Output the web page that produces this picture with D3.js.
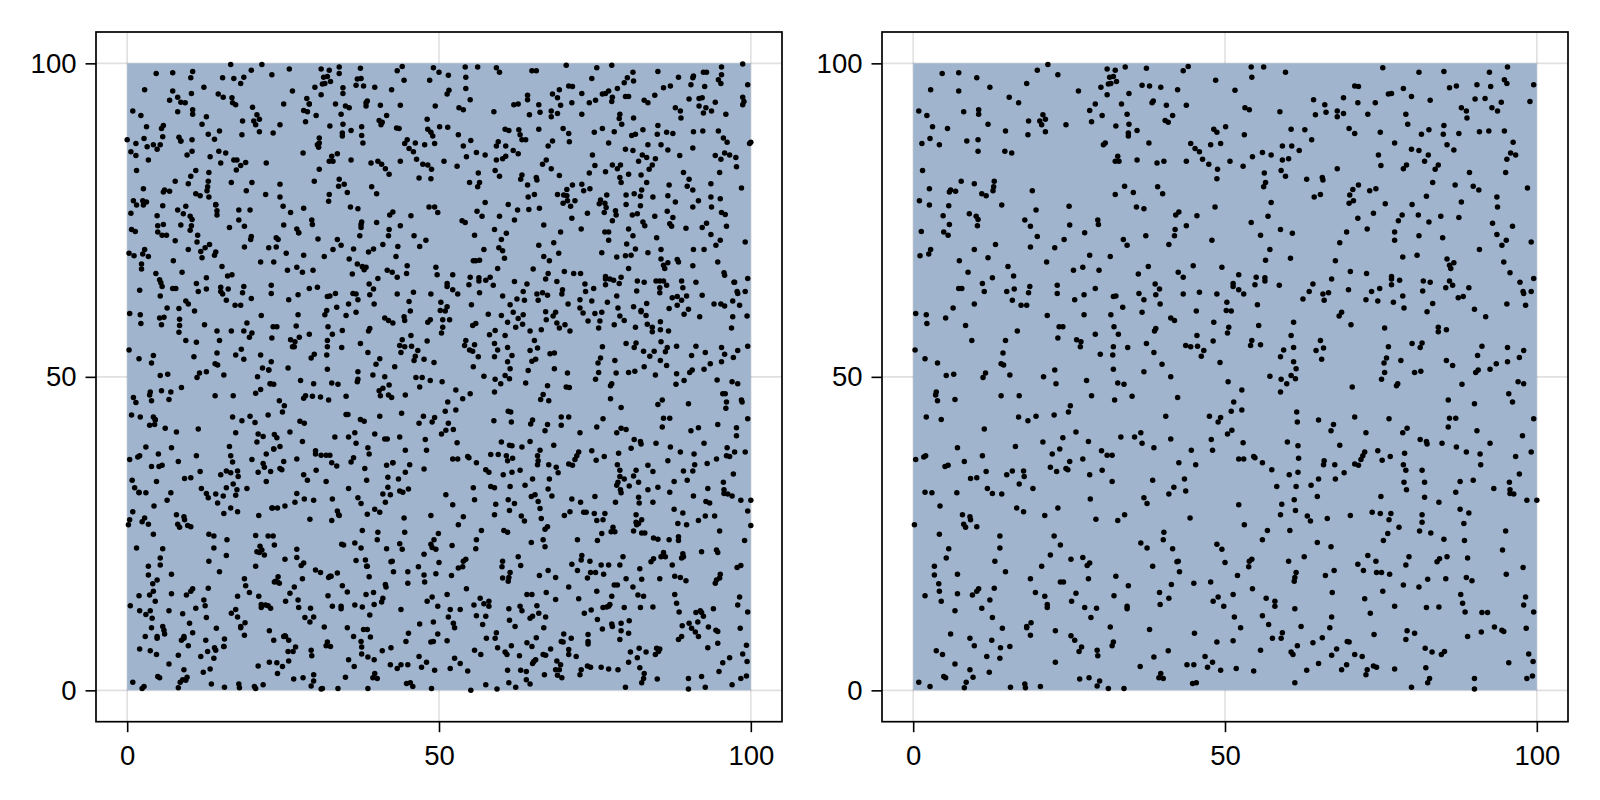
<!DOCTYPE html>
<html lang="en">
<head>
    <meta charset="UTF-8">
    <title>Scatter panels</title>
    <script src="https://d3js.org/d3.v7.min.js"></script>
    <style>
        html, body { margin: 0; background: #fff; }
        svg { display: block; }
        .axis text { font-family: "Liberation Sans", Arial, sans-serif; font-size: 27.5px; fill: #000; }
    </style>
</head>
<body>
    <div id="chart"></div>
    <script>
        // Points visible in both panels as [x, y]
        const sharedPoints = [
            [4.65,98.4],[7.3,98.5],[10.2,97.7],[2.8,95.8],[7.3,95.6],[12.3,96.2],[18.2,96.8],[19.9,98.9],[21.6,99.8],[23.2,98.2],[15.4,94.6],[16.9,93.7],[26.5,95.6],[0.9,92.4],[2.2,91.7],[8.1,92.3],[10.5,92.6],[10.5,91.9],[3.1,89.9],[5.5,89.6],[12,90.3],[14.8,89.2],[18.5,90.8],[20.8,91.8],[21.2,91.1],[20.3,90.8],[20.6,90.2],[21.2,89.1],[18.4,88.6],[24.5,90.2],
            [1.4,87.2],[2.7,88],[4.2,87],[8.6,87.6],[10.4,87.8],[10.4,86],[14.7,86],[15.8,85.7],[1.5,82.9],[7.7,81.2],[9.8,80.8],[13,81.2],[12.9,80.3],[12.8,79.7],[2.6,80],[6,79.8],[5.8,79.5],[6.8,79.6],[11,79.2],[11.7,78.9],[19.1,79.7],[1,78.1],[2.6,77.4],[5.7,77.3],[14.2,77.4],[19.7,76.6],[25,77.2],[4.8,75.7],[9,76],[10.1,75.6],[10.4,75.1],[10.3,74.1],[5.8,74.3],[17.9,75],[18.8,74],[25.1,74.2],
            [1.3,73.2],[4.9,73.1],[5.6,72.6],[19.9,72.4],[24.2,71.9],[13.2,71.1],[9.8,70.3],[18.8,70.7],[22.7,70.6],[2.8,70.3],[2.5,69.6],[1.1,69.3],[12,69],[7.4,68.5],[21.4,68.3],[15.2,67.6],[8.8,66.7],[16.1,66.1],[12.7,65.8],[11.1,64.9],[7.3,64.1],[7.8,64.1],[11.4,63.6],[15,63.6],[16.2,64],[18.7,64.4],[18.5,63.4],[15.9,62.2],[17.3,61.4],[18.2,61.4],[9.8,61.6],[6.4,61],[0.4,60.1],[2.1,59.9],[2.2,58.5],[5.2,59.4],[8.4,58.2],[16.7,57.3],[9.4,55.8],[14.8,55.8],[14.4,53.8],[0.3,54.3],[1.9,52.9],[3.9,52.2],[14.1,52.1],[14.5,51.9],[5.3,50.2],[6.5,50.4],[11.6,50.6],[11.2,49.9],[15.5,50.3],[20.9,50],[22.7,51.1],
            [30.1,96.2],[31.1,99.1],[32.4,98.9],[34,99.4],[37.4,99.2],[31.5,97.8],[32.1,97.9],[31.3,96.7],[31.7,96.8],[32.6,97.1],[36.7,96.5],[37.9,96.4],[39.7,96.2],[42.4,95.8],[44.1,99.5],[43.3,98.8],[48.5,97.3],[51.6,95.7],[31.1,95],[34.6,95.2],[29.2,93.5],[28.3,92.5],[33.4,93.5],[38.5,94],[38.3,93.7],[40.6,93.3],[43.8,93.3],[30.3,91.7],[34.3,91.9],[28.6,90.7],[41.6,91.7],[40.4,90.9],[40.9,90.6],[34.6,90.3],[32.5,90],[35.9,89.3],[34.5,88.9],[34.5,88.4],[48.2,89.5],[48.7,89],[50.1,89.9],
            [30.8,87.3],[30.5,87],[37.8,87.3],[44.5,87.2],[45.2,86.4],[45.9,85.9],[47.7,87],[49.3,87.2],[32.8,85.2],[32.4,84.4],[33,84.4],[35.9,84.6],[39.1,84.1],[40.2,84.4],[43.8,84.4],[46.4,84.7],[47.4,83.9],[48.8,83.1],[50.8,84.4],[48.7,81.6],[33.9,80.4],[32.4,79.1],[35.3,79.4],[39.2,80.3],[40,79.2],[35.8,77.1],[37,76.8],[48.4,77.1],[42.6,76.3],[42.1,75.8],[45.5,75.7],[29.6,75],[29.7,74.3],[43.8,74.1],[42,73.5],[27.5,73],[41.9,72.5],[37.3,72.5],[33.7,71.9],[34.3,71],[41,71.1],[47.9,71.8],[28.3,69.4],[31.6,69.2],
            [37.7,67.6],[44.9,67.7],[49.5,67.5],[27.2,67.5],[25.7,67],[29.8,67],[36.1,66.4],[42.5,66.7],[43.3,65.9],[38.8,64.8],[39.5,64],[36.2,63.3],[37,62.3],[38.9,63.1],[39.6,61.6],[29.2,64.1],[23.1,64.6],[23.1,63.3],[27.4,63.1],[25.9,62.3],[32.1,62.8],[32.5,62.9],[33.6,61.1],[43.3,63.2],[45.9,63.5],[48.7,63.2],[51.3,64.9],[51.3,64.4],[50.3,61.9],[50.2,60.6],[51,60.5],[21.5,59.8],[27.4,59.9],[31.7,59.9],[36.7,60.3],[45.4,60.5],[41.3,59.4],[41.9,59],[48.2,58.7],[32.2,58],[23.4,58],[24,58],[38.9,57.7],[38.7,57.3],[50.6,57.9],[50.4,57],[29.2,56.8],[32.9,56.8],[45.5,56.6],[23.2,56.2],[26.2,55.9],[26.9,55.6],[26.8,54.8],[37.4,55.3],[32.1,54.8],[34.4,54.7],[48.1,55.7],[43.7,55],[44.5,54.8],[45.6,54.9],[46.6,54.2],[46.2,53.3],[38.6,53.9],[30,53.6],[32,53.5],[49.2,52.3],[39.9,52],[32.1,51.2],[37,50.8],[41.3,50],
            [54.2,99.4],[56.2,99.4],[54.3,97.8],[59.7,98.6],[75.3,99.3],[81.1,98.6],[85.1,98.7],[92.4,98.6],[95.3,99.4],[94.8,97.4],[95.2,96.8],[99.5,96.6],[70.8,96.4],[71.4,96.3],[76.2,95.1],[76.7,95.2],[78.6,96],[79.9,94.7],[82.9,94.1],[86,96.1],[87.1,96.4],[90.4,96.6],[92.6,96.3],[90.1,94.3],[91.7,94.4],[94.3,93.8],[92.8,92.9],[93.7,92.4],[98.9,93.9],[87.9,92.9],[88.7,92.4],[88.8,91.3],[64.2,94.2],[69,94.5],[66,93.4],[66.2,92.2],[64.5,91.8],[68,92.4],[68,91.5],[69,92],[71.3,93.7],[74.1,93.7],[72.9,91.9],[79,91.9],[79.3,90.3],[53.2,92.9],[53.9,92.6],[58.8,92.3],
            [53.1,88.6],[60.6,89.5],[62.8,89.4],[69.9,89.6],[70.8,88.8],[74.9,89],[81.5,88.7],[82.7,89.4],[85.1,90.1],[85,88.7],[87.5,88.8],[90.8,89.1],[92.3,89.2],[94.8,89.2],[63.9,87.8],[59.2,86.8],[60.7,86.8],[61.9,86.1],[77.2,87.3],[85.6,87],[86.7,86.2],[96.2,87.4],[56,85.8],[57.4,85.4],[54.4,85.1],[59.2,84.6],[60.2,84.8],[52.9,83.6],[79.9,86.3],[81.1,86.1],[82.6,85.4],[74.6,85.4],[75,83.7],[82,84.4],[79.1,83.8],[78.6,83.2],[84.2,83.8],[83.7,83.1],[95.8,85.7],[96.6,85.4],[95.2,84.7],[68,83.2],[59,82.9],[59.7,82],[56.3,82.5],[56.5,81],[56.2,80.3],[89.2,82.6],[95,82.6],[63.1,81.5],[65.6,81.8],[65.7,81.4],[83.3,81],[71.4,80.6],[70.5,79.9],[70,79],[74.2,80],[73.2,79.7],[86.9,80.6],[89.8,80.4],[90.7,79.8],[98.5,80.1],[64.3,78.7],[65.3,79.1],[70.6,78.1],[69.9,77.7],[82.3,78.8],[80,77.5],[57.4,77.8],[75.7,77.6],[87.9,77.9],[93.6,78.7],[93.7,77.1],
            [56.9,75.6],[73.8,76.1],[71.3,75.3],[78.4,75.8],[77.8,74.9],[81,75.8],[82.7,74.7],[84.6,75.6],[87.5,75.4],[54.2,74.6],[92.9,74.5],[96.1,74],[58.9,73.5],[60.8,72.9],[69.5,73.1],[72.8,73.6],[77.2,73.1],[77.2,71.8],[81.1,72.5],[84.9,72.2],[55.7,72.6],[93.6,72.7],[95.1,71.8],[94.4,71],[99.1,71.5],[68.4,71.4],[57.2,70.3],[56.5,68.6],[60.5,68.9],[90.8,70.3],[67.7,68.5],[78.5,69.1],[80.8,69.4],[85.6,68.8],[86.7,68.2],[86,67.8],[86.2,67.3],[94.7,68.3],[95.7,66.6],[70.1,66.8],[72.7,66.5],[52.2,66.3],[55,65.9],[56.4,65.8],[56.4,65.3],[54.8,64.7],[58.7,64.6],[67.1,65.6],[64.1,64.8],[63.5,63.6],[62.5,62.4],[76.7,66],[76.7,65.6],[76.7,64.7],[78,65.4],[81.8,65.3],[82.9,65.1],[81.7,63.7],[86,65.3],[86.5,64.6],[85.4,64.2],[89.1,64.2],[97.3,65.1],[99.5,65.7],[99.1,63.6],[97.8,63.6],[97.9,63.3],[52.2,63.9],[53,63.2],[69.8,63.9],[74.8,64.1],[73.5,63.6],[65.7,63.2],[66.6,63.4],[65.9,62.2],[72.6,62.3],[74.5,62.1],[77,61.9],[78.5,62.9],[78.7,61],[87.4,62.6],[88.2,62.8],[83.3,61.7],[82.4,60.4],[90,60.8],[91.8,59.6],[95.2,61.6],[98.2,61.4],[55.2,61.5],
            [68.3,59.7],[68.7,60.3],[70.2,58.3],[61,58.7],[55.4,58.2],[75.6,57.8],[84.2,57.9],[84.2,57.2],[85.5,57.5],[60.6,56.6],[54.3,55.8],[54.1,55],[55.7,55.1],[61,54.7],[59.4,54.3],[58.9,53.2],[65.3,55.8],[65.8,54.6],[64.6,54.2],[65.5,52.8],[61,52.4],[61.4,51.3],[60.6,50.2],[61.3,49.7],[57.2,50.1],[59,49.6],[76.2,54.8],[75.9,53],[75.5,52.2],[75.6,50.7],[75.1,49.6],[80,55.3],[81.6,55.4],[81.3,54.7],[78.2,52.6],[80.4,50.7],[81.4,50.9],[85.5,52.6],[86.5,51.8],[91.2,54.9],[90.5,53.4],[90.6,51.1],[90.2,50.7],[95.3,54.7],[95.3,52.4],[93.5,52.1],[92.5,51.2],[97.9,54.2],[97.2,53.1],
            [22.9,48.9],[27.8,49.4],[32.8,49],[33.8,48.8],[3.7,47.6],[3.6,47.1],[3.9,46.2],[6.7,46.4],[14.1,47],[17,47],[28.6,47],[32.3,46.3],[35.1,46.9],[42.4,46.7],[50.5,49.2],[51.4,46],[25.2,45.4],[24.9,44.4],[2.1,43.6],[4.5,43.2],[16.9,43.6],[18.4,43],[19.7,43.7],[22.6,43.9],[40.5,43.7],[47.5,43.7],[49.3,43.5],[48.9,42.8],[51,44.5],[11.4,41.7],[26.1,41.2],[51.1,41.5],[50.4,40.9],[7.1,38.7],[16.4,38.9],[20.8,39.6],[24,40.3],[28.1,39.7],[33.3,40.4],[35.5,40.4],[36.5,41.1],[36.7,39.4],[38.6,38.7],[41.3,40.1],[47.8,40],[48,38.3],[23.5,38.5],[22.3,37.7],[30.2,38.2],[31.1,37.5],[31.9,37.5],[44.6,38.3],
            [0.4,36.8],[1.7,37.2],[2,37.4],[11.1,37.4],[8.2,36.5],[5.6,35.9],[5.1,35.7],[27.2,36.9],[25.1,36.5],[22,35.6],[23,34.9],[24.5,35.4],[24.8,35.2],[42.6,36.3],[45.3,36],[52.2,36.9],[11.7,34.9],[15.9,35],[17.7,35],[17.8,34.1],[15,34.4],[28.3,34.4],[30.3,35.1],[31.9,33.3],[9.2,33.8],[10.2,33.9],[17,32.9],[19.2,32.2],[38.4,33.5],[43.5,33.7],[41.8,32.4],[41,31.3],[43.7,31.8],[1.9,31.6],[3,31.5],[7,31.5],[11.9,32.2],[12.7,31.4],[14.2,31.3],[37,30.7],[37.5,29.8],[28.4,30.5],[4.3,29.4],[16.6,29.1],[17.7,28.5],[23.2,29.1],[52.2,29.6],[7.9,28],[9.1,27.7],[9.2,27.2],[21.1,27.9],[29.3,27.3],[32.8,27.1],[33.9,28],[44.4,27.5],[0.2,26.4],[8.1,26.5],[8.4,26],[10.2,26.1],
            [4.2,24.9],[13.9,24.6],[22.6,24.6],[40.2,25.2],[40.1,24],[23.6,23.2],[36.5,23.5],[37.5,22.7],[5.7,22.6],[13.9,22.7],[41.6,22.6],[48.7,23.3],[49.5,22.5],[5.3,21.1],[13.1,20.6],[22,21.6],[25.3,20.9],[27.2,21.2],[28.3,20.3],[27.9,19.9],[20.6,19.8],[3.4,19.8],[3.4,18.4],[14.8,18.9],[7.1,18.5],[38.4,19.8],[42.3,20.5],[42.5,20.6],[42.7,18.9],[50,20.4],[52,18.3],[32.5,18.2],[28.1,17.8],[18.8,17.8],[4.1,17],[4.2,15.8],[23.6,17.3],[24.1,17.3],[13,16.3],[34.5,16.7],[41.4,16.9],[45,17.1],[47.7,17.3],[10.5,16.2],[10.2,15.8],[9.5,15.2],[7.1,15.4],[1.9,15.1],[19.6,15.6],[21.1,15],[26.1,15.5],[32.2,15.1],[39.5,15.6],[51.3,15.3],[48.9,14.9],[48.1,14.2],[12.3,14.4],[4.5,14.2],[25.4,14.2],[41,14.7],[21.5,13.7],[21.5,13.2],[39.6,13.7],[34.3,13.4],[34.3,13],[11,13.1],[6.7,12.7],[27.5,13.2],[29.4,13.1],[49.8,13.4],
            [12.7,11.6],[28.5,11.6],[51.5,11.7],[18.9,10.8],[18.2,10.2],[18.2,10],[14.3,9.9],[31.6,10.1],[37.9,9.7],[22.8,9.5],[6,9],[18.8,8.8],[45.1,9.1],[9.1,8.3],[9.8,7.1],[12.6,8],[25.3,8.7],[25.9,8],[32.1,7.7],[31.9,7.1],[27,6.9],[48.7,7.7],[51.3,7.9],[15.5,7],[14,6.8],[3.7,6.3],[4.7,5.7],[26.6,6.2],[29.5,6.4],[29.6,5.5],[40.9,6.3],[11.8,5.4],[13.9,5.1],[38.6,5.3],[46.8,5.4],[48,4.5],[6.7,4.2],[22.8,4.5],[43.9,4.1],[45,4.1],[36.4,3.8],[47.2,3.7],[9.1,3.3],[12.2,2.9],[49.3,3.2],[51.8,3.5],[4.9,2.2],[5.2,2],[9.6,2.1],[26.7,1.8],[28.2,2],[29.9,1.5],[39.7,2.7],[39.4,2],[40.1,1.9],[0.9,1.3],[2.7,0.6],[8.5,1.3],[8.2,0.4],[15.6,0.5],[17.9,1],[18,0.4],[20.4,0.6],[29.5,0.7],[31.3,0.3],[33.8,0.3],[44.8,1.1],[45.4,1.2],
            [59.9,48.9],[58.9,47.6],[52.7,47.9],[70.4,48.4],[77.7,48.9],[77.5,48.6],[88,48.8],[97,49.2],[97.9,48.9],[95.5,47.3],[96.1,46],[85.8,46.3],[90,45.7],[52.7,44.7],[61.5,44.4],[61.6,42.8],[65,43.1],[67.4,42.4],[67,41.4],[70.8,43.6],[76.3,43.3],[72.6,41.1],[78.5,41.1],[79.2,41.8],[86,43.4],[87,43.4],[85.8,42],[99.5,43.3],[90.4,41.4],[97.7,40.6],[52.9,39.5],[60,39.6],[61.7,39],[68.4,39.1],[81.3,40],[82.3,39.7],[82.4,39.3],[84.8,39.4],[87.1,38.8],[88.7,38],[92.5,39.4],[74.5,38.2],[78.8,37.8],[90.9,37.7],[99.1,38],[53,36.9],[54.6,37.3],[54.8,37.1],[56,36.3],[57.5,35.2],[61.8,37],[65.9,36.6],[65.8,36],[67.6,36],[72.4,38],[72.1,37.4],[71.8,36.8],[70.8,36.1],[71.4,35.9],[75.2,36.7],[76.5,37.3],[78.6,36],[79,35.1],[91,36],[96.6,37.3],[60.3,34.4],[61.7,34.8],[69.1,34.7],[65,33.7],[67.7,33.7],[81.6,35.1],[97.2,34.5],[78.7,33.2],[79.1,32],[82,33.2],[87.7,33.3],[89.8,33.5],[95.6,33.2],[58.3,32.5],[61.4,32.5],[63.8,32.7],[87,31.6],[93.1,32.2],[95.7,32],[95.7,31.4],[96.3,31.3],[64.8,30.9],[75,30.9],[82,30.8],[61.1,30.4],[59.1,29.7],[84.3,30],[98.4,30.3],[100,30.3],
            [61.3,28.7],[58.9,28],[63.2,27.8],[63.7,27],[66.4,27.4],[70.1,27.9],[73.6,28.4],[74.9,28.2],[76.6,28.2],[87.7,28.9],[89.1,28.3],[81.6,28],[81.6,26.8],[76.3,27.2],[53.1,26.4],[88.3,26.6],[56.8,25.5],[56,24],[60.4,25.5],[77.9,26],[76.1,25],[75.4,23.9],[81.2,25.4],[83,25.1],[85.1,24.1],[95,25.4],[88.4,23.9],[64.8,23.6],[67,22.9],[94.5,22.4],[62.7,21.3],[60.2,20.6],[54.3,20.9],[53.9,20.6],[53.8,19.7],[72.9,21.5],[74.2,20.6],[79.5,21.3],[71.3,20.1],[72.2,19.1],[79,20],[84.4,21],[84,20.5],[85.6,21.3],[88.9,21.1],[97.8,19.6],[61.4,18.8],[61.2,18],[61.1,17.4],[67.5,19.1],[66.1,18.3],[74.3,18.8],[75.1,18.8],[76.4,18.5],[95.1,18.5],[88.7,18],[89.6,17.5],[82.5,17.7],[85.4,17.8],[78.6,16.8],[81.1,16.5],[54.4,16.2],[67.2,15.6],[75.3,15.8],[56.6,14.7],[58,14.2],[58,13.4],[72.4,14.6],[87.8,15.3],[88.1,13.9],[98.2,14.9],[97.9,13.6],[61.2,13],[77.2,13.4],[82.3,13.2],[84.3,13.3],[73.3,12.3],[88.5,12.5],[91.2,12.4],[92.1,12.4],[99.5,12.5],[56,11.9],[67.1,11.7],
            [57,10.5],[62.2,10.2],[66.8,10],[52.5,10],[93.2,10.1],[94.4,9.6],[94.7,9.4],[98.3,9.9],[79.2,9.5],[80.4,9.1],[79,8.1],[91.1,9.3],[88.9,8.6],[73.9,8.9],[59.2,9.2],[59,8.3],[57.6,8.3],[65.6,8.4],[64.1,7.6],[69.6,7.8],[69.9,7.7],[55.7,6.4],[61.6,7.1],[60.6,6.1],[60.9,5.7],[67.9,6.6],[67.1,5.6],[82.1,6.7],[83.2,6.1],[85.2,6.2],[84.7,5.7],[70.8,5.7],[72,5.4],[98.7,5.8],[65,4.3],[69.5,4.1],[73.8,3.9],[74.3,3.7],[82.2,3.6],[99.4,4.6],[95.5,4.4],[54.6,3.1],[63.1,3.2],[68.7,3.3],[72.8,3.3],[72.6,2.5],[77.2,3.4],[82.8,1.9],[82.5,1.2],[90,1.9],[98.4,1.9],[99.3,2.3],[61.2,1.2],[79.9,0.5],[90,0.2]
        ];

        // Points that only the left panel shows
        const leftOnlyPoints = [
            [10.5,98.7],[16.6,99.8],[26,99.1],[15.3,97.7],[17.1,97.6],[18.7,97.8],[10.3,95.2],[14.6,95.1],[16.8,94.5],[17.4,93.4],[8.1,94.6],[6.8,94.1],[8.6,93.8],[9.3,93.7],[25.1,93.5],[28.8,94.4],[29.2,93.5],[28.9,92.3],[34,98.4],[34.6,96.1],[36.9,97.5],[37.5,97.6],[44.4,97.3],[49.1,99.3],[50,98.6],[35,93.2],[35.6,92.9],[38.3,93.2],[40.7,90.2],[37.6,89.9],[37.6,88.5],[46.2,87.3],[44.9,87.8],[49,88.4],[43.2,89.7],[43.6,89.6],[48.1,91.1],[49.4,93.2],[5.8,90.1],[12.7,91.5],[13,88.7],[14,87.9],[23.4,88.9],[20.1,93],
            [0,87.8],[3.2,86.7],[4.8,86.3],[5.3,87],[5.7,88.3],[8.3,88.2],[8.6,87.6],[0.6,85.9],[1.4,85.3],[3.4,84.6],[9.6,85.4],[13.3,85.1],[15,84.1],[22.3,84.1],[17.1,84.6],[17.6,84.6],[19,84.2],[18.2,83.7],[17.5,83],[28.2,85.7],[33.7,85.6],[30.8,88.1],[30.7,86.6],[30.8,83.1],[40.8,83.9],[41.4,83.2],[42,82.3],[48.2,83.8],[46.8,81.7],[11,82.9],[10.2,82],[13.1,82.6],[13.1,78.7],[1.5,77.4],[2.5,78.1],[3.1,77.9],[0.6,76.1],[8.1,76.6],[9.4,77.2],[4.9,74.1],[8.6,74.2],[10.1,73.4],[0.7,73.5],[6.3,72.6],[7.7,71.7],[11.3,72.6],[11.2,71.5],[12.5,70.6],[11.8,70],[14.2,69.9],[14,69.4],[0.3,69.7],[3.4,69.2],[2.3,68],[2.3,67.2],[4.6,66.5],[5.2,65.5],[5.4,65],[5.6,64.4],[2,63.8],[5.3,62.9],[16.8,66.3],[12.7,64],[15,64.3],[15.3,63.2],[19.9,62.5],[9.4,62.1],[10.8,60.5],[8.3,60.9],[5.9,59.5],[5.5,58.3],[8.4,59.2],[8.3,57.1],[11.1,55.5],[12.4,58.3],[14.4,57.3],[19.2,58.6],[18.7,57.3],[20,57],[19.6,56.3],[4.2,53.4],[10.7,53.2],[17.4,53.5],[18.3,54.4],[18.7,52.8],[21.4,53.5],[23.1,52.4],[21.7,51.4],[22.7,51.1],[12.7,50.8],[25.8,51.4],
            [20,81],[16.7,81],[22.2,79.1],[24.5,80.7],[24.5,78.7],[26.2,76.2],[28.3,76.9],[14.2,77.5],[14.4,76.5],[14.4,75.8],[17.9,76.6],[16.4,73.8],[27.2,73.6],[27.5,73],[19.8,71.9],[23.9,72.2],[23.9,70.7],[25.5,69.7],[23.5,68.3],[28.1,66.7],[30.5,64.3],[30.6,72],[33,70.3],[36.3,70.4],[35.6,68.8],[38.7,69.9],[39.5,70.4],[43.1,69.2],[43.4,70.8],[46,72.5],[46.9,70.8],[37.5,74.3],[37.6,74.7],[37.5,73.8],[40,74.6],[34,81.5],[34.8,80.7],[32.3,78],[30,81.2],[49.3,77.1],[49.8,76.2],[44.8,66.5],[41.7,67],[40.2,65.7],[36.9,68],[37.8,67.5],[38.3,67.5],[38,67.1],[36.7,63.2],[35.5,61.6],[33.4,63.3],[35.1,59.8],[32,60.6],[27.1,58.1],[27.6,56.3],[26.5,54.8],[32.1,55.8],[34.5,57.4],[29.5,53],[40.5,52.9],[39.4,50.3],[42.9,51.6],[37,49.6],[44.1,55.9],[43.9,53.9],[46,52.6],[47.6,52.8],[46.3,49.9],[47.3,49.9],[45.2,62],[42.6,58.6],[44.4,59.6],[44.5,59],[48.6,59.1],[49.7,66.3],
            [59.2,99.3],[51.5,98.1],[64.9,98.8],[65.6,98.8],[70.4,99.7],[77.7,99.7],[74.5,97.6],[88.4,97.8],[90.8,98],[90.7,97.7],[92.9,98.6],[95.3,98.2],[98.7,99.9],[51.3,95.1],[54.3,96],[55,94.2],[62,93.4],[62.7,93.5],[64.2,94.9],[68.2,95.1],[69.3,95.8],[69.5,93.3],[72.9,95.2],[75.1,94.1],[77.2,95.6],[77.8,94.6],[77.7,93.9],[79.7,96.9],[80.2,97.7],[81.2,97.2],[80.4,94.7],[83.5,93.7],[84.6,94.9],[92.2,94.5],[91.7,93.2],[92.4,92.1],[98.7,94.6],[98.7,93.4],[96,91.9],[78.9,91.2],[81.2,91.3],[51.4,89.8],[53.9,86.8],[55.1,87.7],[61.2,89.3],[63,88.6],[63.3,87.8],[66,89.5],[70.9,87.5],[76.2,89.6],[78.1,89.1],[80.9,88.5],[86.5,89],[83.5,87],[95.6,88.1],[90.7,86.5],[99.8,87.2],[100,87.4],[59.5,87.5],[62.7,85.6],[60.7,85.2],[67.5,86.8],[68.2,87.6],[67.2,84.6],[66.6,83.9],[77.8,83.8],[83.3,85],[84.7,84.8],[88.6,85.3],[94.3,85.3],[97.6,85],[97.7,83.5],[90.1,81.5],[93.6,80.8],[54.9,81],[63.3,82.2],[64.2,80.6],[69.3,82.1],[74.1,82.5],[76.7,82.7],[79,81.8],[79.2,81],[80.4,82.3],[82.4,82.2],
            [69,79.1],[70.5,78.9],[71.8,78.1],[71.1,77.2],[72.9,80.7],[76.9,79],[75.9,78.2],[76.6,77.7],[76.8,77],[76.5,76.2],[78.3,76.5],[80,79],[81.3,79.2],[82.5,79.8],[84.3,78.7],[86.7,78.9],[91.6,78.1],[90.7,77.1],[95.1,78.4],[82.3,77.3],[81.8,76],[86.6,76.4],[83,74.1],[87,74.4],[87.3,74],[92.2,73.8],[95.3,76.2],[95.9,75.9],[56.1,76.4],[61.1,77.5],[62.6,76.6],[64.4,76.7],[66.1,76.9],[59.7,75.6],[62.1,75],[53.7,74.9],[66.8,74.2],[60,71.9],[66,71],[59.6,70.6],[60.2,70.1],[55.5,68.5],[55.9,68.5],[66.8,69.2],[69.2,69.7],[76.1,69.8],[79.9,69.3],[81.5,70.4],[83.5,69.8],[85.6,70.3],[80.1,71.2],[76.6,73.1],[80.4,73.6],[89.6,73.7],[92.5,70.3],[59.4,67.3],[65.1,67.2],[71.6,66.5],[88.2,68.7],[88.4,68.3],[90.7,67.7],[95.8,66.2],[80.4,67.3],[57.5,65.4],[58.2,65.9],[56.5,63.4],[62.1,65.2],[63.7,62.2],[60.2,62.9],[67.5,66.5],[68.9,65.2],[69.7,63.2],[67.4,63],[70.7,61.6],[73.4,64.8],[77.4,65.6],[78.9,64.9],[79.2,65.9],[72.6,61],[73.1,60.2],[75,60.1],[76.1,60.3],[73.9,58.9],[75.8,58.9],[78.1,58.3],[79,59.7],[79.7,59],[81.2,61.2],[82.4,60.6],[83.2,59.8],[81.5,57.9],[83.4,58.4],[85.5,58.8],[86.8,57.3],[84.8,65.3],[85.4,65.3],[85.4,63.4],[88.9,65.3],[91.2,65.1],[88.9,62.2],[88.2,61.4],[89.7,62.9],[89.3,60],[86.9,60.9],[92.2,63],[94.1,61.6],[95.8,61.3],[97.1,62.1],[97.1,59.6],[99.4,59.7],[97.4,65.1],[96.9,57.8],
            [57.9,60],[60,59.8],[61.9,60.3],[62.7,59.3],[63.5,59.9],[62.3,57.9],[63.4,58.4],[61.4,61.5],[67.1,60.4],[67.2,59.1],[68.9,58.6],[69.3,57.8],[71,57.3],[64.6,57.3],[66.4,57.5],[58.1,56.7],[59,57.4],[55.9,58.5],[51.3,61.2],[50.6,59.1],[51.7,59.1],[54.9,54.3],[55.4,54.1],[56.3,53.2],[58.9,55.3],[61.7,53.4],[55.5,51.6],[64.9,52.5],[64.3,51],[67.8,53.7],[68.5,53.8],[68.5,51.3],[70.6,50.6],[78.4,50.6],[82.9,51.6],[82.8,54.1],[83.8,53.3],[84.5,54.1],[85.6,55.6],[86.6,54.7],[86.3,54],[88.1,54.9],[84.7,50.3],[88.1,50.5],[92.7,53.9],[95.8,53.6],[99.5,54.9],
            [29.9,48.9],[36.9,49.2],[46.9,48.4],[48.6,49.4],[40.4,47.8],[41,48.2],[42,48.7],[5.5,47.8],[7,47.6],[1,46.7],[1.4,45.9],[8.7,48.3],[20.6,47.4],[21.4,48],[23,48.9],[23.5,48.8],[24.4,46.2],[28.3,46.6],[29.7,46.9],[31,46.8],[40.6,47],[41.9,47.1],[44.6,47.1],[0.7,43.9],[4.2,43.6],[4.5,43.1],[4.4,42.4],[3.6,42.3],[6.1,41.8],[7.9,41.2],[20.5,42.7],[27.7,42.9],[28.4,42.6],[17.4,41.1],[35.1,44],[35.4,44],[37.4,43.2],[38,42.9],[44,44.2],[46.8,42.6],[21,40.9],[21.8,40.5],[23.6,40.8],[23.5,38.5],[24.5,38.9],[41.7,40.1],[39.7,40.9],[43.7,40.4],[3,38.8],[5,37.7],[16.6,37.4],[16.9,36.4],[20,36.8],[21.8,36.2],[30.2,37.7],[32.5,37.5],[32.8,36.3],[33.6,35.8],[35.9,36.4],[36.3,37.1],[38.8,37.7],[41.6,35.9],[42.6,36.3],[38.1,35.4],[47.6,35.3],[44.6,34.8],[3.9,35.7],[16.6,34.7],[28.9,33.5],[21,34.8],[22.3,33.3],[35.5,32.2],[41.8,34],[44.2,31.6],[45.1,32.1],[42.2,31.2],[0.8,33.5],[4.7,33.3],[1.2,32.3],[1.9,31.5],[13,30.7],[15.4,31],[15.9,32.3],[17.6,32],[17.4,31.1],[14.5,29.9],[15.5,28.2],[6.4,30.3],[0.9,28.5],[0.4,27.2],[2.8,27.5],[2.4,26.9],[3.4,26.5],[9.7,26.3],
            [23.3,29.1],[24.1,29.1],[25.3,29.4],[26.9,30],[27.2,31.4],[29.9,30.3],[32.9,30.5],[33.7,28.6],[34,27.9],[38.5,28.1],[39.7,28.9],[40.5,28.4],[41.4,30],[48.7,27.9],[37.7,25.5],[43.7,23.4],[44.1,22.5],[44.5,25.2],[49.2,24],[48.9,22.8],[49.9,25],[34.4,23.3],[34.7,23.2],[13.1,24.9],[16,24],[20.6,24.7],[23.4,24.6],[21.3,23],[20.8,22.1],[21.2,22],[21.6,22.4],[27.2,22.5],[15.9,21.5],[1.5,22.7],[5.3,20],[4.8,17.6],[30.2,19.2],[31,18.8],[32.3,18],[32.7,18.2],[33.7,18.7],[36.7,20.7],[38.2,20.8],[38.5,19.8],[38.8,18.1],[45,18.9],[46.7,19.7],[47.6,21.7],[47.6,18.4],[49.5,18.6],[24.2,18.1],[23.8,17.4],[24.4,17.1],[19,16.7],[17.7,15],[3.6,15.2],[0.5,13.5],[2,12.7],[3.7,12.7],[3,12.1],[4,11.5],[8.9,12.2],[12.5,13.5],[10,10.7],[3.9,10],[5.7,10.2],[5.9,9.6],[2.9,8.6],[4.8,8.6],[4.8,8.3],[9.1,8.6],[8.7,8],[10.5,9.2],[12.9,6.2],[14.2,6.4],[15.6,8.2],[15.5,7],[17.4,12.9],[16.7,12.3],[17.7,11.7],[23.5,8],[25.1,8.6],[25.4,8.6],[25.8,6.2],[25.9,4.7],[24,4.4],[24.9,3.8],[24.1,2.7],[21,3.9],[22.2,13.6],[22.6,13.5],[23,13.1],[26.8,16.5],[27.4,14.4],[29.3,10.9],[29.9,11.7],[32.9,13.4],[35.3,15.7],[36.5,13.6],[37.7,13.3],[38.9,12],[38.3,15.3],[40.8,14.1],[41.5,16.5],[43.9,12.9],[49.1,10.9],[46.9,10.6],[49.8,9],[44.7,7.8],[49.1,7.8],[35.3,10],[38.5,9.7],[36.3,8.6],[39,8.5],[37.5,7.8],[37.6,6.9],[37.6,5.8],[39.6,4.9],[42.3,6.8],[32.6,7],[35.5,4.9],[42.2,4.1],[43.3,3.5],[29.9,2.5],[31.1,0.2],[35,2.1],[38.6,0.3],[45.8,0.6],[48.8,0.3],[2,6.6],[8.2,5.6],[13.3,3.4],[8.9,1.7],[9.4,1.6],[2.4,0.3],[13.5,1],[20.6,0.3],[21.8,0.9],
            [63.9,49],[67.4,48.6],[70.9,48.3],[89.3,49.4],[94.6,49.5],[53.8,46.5],[55,47.3],[66.7,47.2],[66.3,46.4],[67.6,46.2],[77.5,46.5],[79.2,45.1],[85.1,45.6],[95.9,47.3],[96,45],[98.5,46.3],[98.6,46],[51.5,42.6],[52.3,41.6],[58.8,43],[61.1,44.5],[64.7,42.5],[69.6,42.3],[69.6,43.6],[75.3,42],[80,41.6],[91.6,41.9],[94.7,42.4],[97.7,41.9],[61.3,39.1],[63.3,38.8],[64.6,39.7],[66.2,38.3],[80.8,38.6],[96.2,38.7],[97.4,38],[96.1,37.4],[94.5,36.9],[93,36.2],[86.7,36.6],[83.5,35.9],[84.3,34.9],[58,34.8],[58.3,37.6],[59.5,37.6],[60.8,37.4],[61,36.6],[65.8,37.4],[63,35.1],[68.8,35.6],[78.5,32.7],[79.2,31.5],[79,34.1],[79.7,33.7],[81.2,34.2],[80.5,32.6],[83.5,32],[85.1,32.4],[89.2,35],[90.7,35],[97,31],[58.9,32.3],[55.5,32.3],[51.1,31.2],[55.7,30.4],[65.4,31.2],[67.5,32.1],[68.1,31],[65.9,30.1],[66.2,29],[62.1,29.8],[71.3,30.5],[72.7,30],[78.3,30],[82.1,29.9],[90.8,31],[92.8,30.1],[93.4,29.9],[53.9,27.7],[71,28.5],[73.2,28.4],[75.3,27.1],[82.5,27.2],[82,26.6],[81.7,26.4],[89.7,26.4],[91.6,27.1],[92.7,27.8],[94.2,27.8],[99.5,28.6],[100,26.3],
            [61,25.2],[55.9,22.6],[52.1,23.1],[66.7,24],[67.4,26.1],[67,25.7],[77.6,25.3],[78.2,25.3],[72.2,24],[82.5,25.1],[84.4,24.3],[86.9,24],[88.4,24.5],[99,23.9],[60.1,19.7],[53.1,19.5],[63.1,19.9],[72.8,20.8],[76,20],[77.2,20],[86,22],[85.8,21.4],[86.3,21.3],[89.1,21.8],[89.2,21.3],[87.4,20],[92.1,22.1],[94.7,22],[98.4,19.9],[60.2,17.9],[68.7,18],[70.8,16.5],[73.8,17.9],[95,17.9],[94.5,17.6],[94.3,17.1],[87.8,18.2],[82.2,19.4],[80,17.8],[78.1,16.8],[64.1,15.3],[64.9,15.3],[57.2,13.8],[55.6,13.6],[68.7,14.5],[51.8,12.9],[53.4,12.9],[77.7,15],[77.4,13.7],[76.9,13.3],[76.3,13.2],[79.7,13.2],[82.8,15],[81.9,15.2],[74.4,12.8],[75.4,11.3],[91.9,12.7],[94,13],[92.4,11.8],[57.5,11.8],[63,13.4],[63.3,12.7],[65.7,13.5],[66,12.3],[65,11.8],[64.6,11.5],[61.3,11.2],[52.3,10.7],[80.5,11.1],[79.2,10.7],[77.7,10.6],[77.8,10.2],[76.2,9.8],[73.9,7.8],[73.9,7.4],[70,9],[71.2,8.3],[88.4,8.1],[90.1,10.7],[89,10.3],[90.5,9.9],[91.6,8.6],[91.5,10.9],[94.7,7.5],[93.1,6.8],[64.9,7],[59.4,6.8],[56.7,5.7],[66.7,5.7],[62.9,5.5],[70.8,6.5],[84.9,6.7],[85.4,6.6],[80.7,6.1],[81.8,5.2],[99.3,7.2],[52.5,5.1],[53.4,4.3],[65.5,4.9],[65.2,4.6],[68.9,4.7],[80.4,4.5],[96.6,5.2],[61,3.2],[64,3],[69.3,3.3],[69,2.4],[69.7,2],[76,3.7],[78.7,3.3],[66.9,2.5],[64,1.7],[64.6,1],[62.3,0.5],[57.5,0.9],[59.3,0.2],[55.1,0],[82.9,2.7],[85,1.8],[92.1,2.2],[92.7,0.5],[94.9,3],[97,0.9]
        ];

        const tickValues = [0, 50, 100];
        const axisDomain = [-5, 105];
        const regionCorners = [[0, 0], [100, 0], [100, 100], [0, 100]];

        const width = 1600;
        const height = 800;
        const panels = [
            { left: 96, right: 782, points: sharedPoints.concat(leftOnlyPoints) },
            { left: 882, right: 1568, points: sharedPoints }
        ];
        const plotTop = 32;
        const plotBottom = 721.7;

        const svg = d3.select("#chart")
            .append("svg")
            .attr("width", width)
            .attr("height", height);

        const y = d3.scaleLinear().domain(axisDomain).range([plotBottom, plotTop]);

        panels.forEach(panel => {
            const x = d3.scaleLinear().domain(axisDomain).range([panel.left, panel.right]);
            const g = svg.append("g");

            // Grid sits under the filled square
            g.selectAll(".vgrid").data(tickValues).enter().append("line")
                .attr("x1", d => x(d)).attr("x2", d => x(d))
                .attr("y1", plotTop).attr("y2", plotBottom)
                .attr("stroke", "#000").attr("stroke-opacity", 0.12).attr("stroke-width", 1.6);
            g.selectAll(".hgrid").data(tickValues).enter().append("line")
                .attr("y1", d => y(d)).attr("y2", d => y(d))
                .attr("x1", panel.left).attr("x2", panel.right)
                .attr("stroke", "#000").attr("stroke-opacity", 0.12).attr("stroke-width", 1.6);

            g.append("path")
                .attr("d", d3.line().x(d => x(d[0])).y(d => y(d[1])).curve(d3.curveLinearClosed)(regionCorners))
                .attr("fill", "#a0b5cd");

            g.selectAll("circle").data(panel.points).enter().append("circle")
                .attr("cx", d => x(d[0]))
                .attr("cy", d => y(d[1]))
                .attr("r", 2.75)
                .attr("fill", "#000");

            // Axes
            const xAxis = g.append("g")
                .attr("class", "axis")
                .attr("transform", `translate(0,${plotBottom})`)
                .call(d3.axisBottom(x).tickValues(tickValues).tickSize(10.5).tickPadding(13).tickFormat(d3.format("d")));
            const yAxis = g.append("g")
                .attr("class", "axis")
                .attr("transform", `translate(${panel.left},0)`)
                .call(d3.axisLeft(y).tickValues(tickValues).tickSize(10.5).tickPadding(9).tickFormat(d3.format("d")));
            [xAxis, yAxis].forEach(a => {
                a.select(".domain").remove();
                a.selectAll(".tick line").attr("stroke", "#000").attr("stroke-width", 1.6);
            });

            g.append("rect")
                .attr("x", panel.left).attr("y", plotTop)
                .attr("width", panel.right - panel.left).attr("height", plotBottom - plotTop)
                .attr("fill", "none").attr("stroke", "#000").attr("stroke-width", 1.7);
        });
    </script>
</body>
</html>
